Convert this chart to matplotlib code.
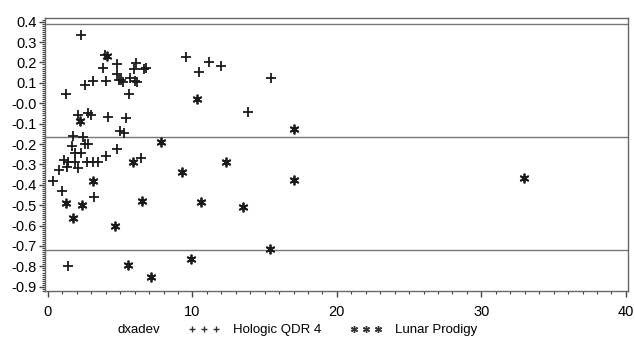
import numpy as np
import matplotlib
matplotlib.use("Agg")
import matplotlib.pyplot as plt
from matplotlib.lines import Line2D
from matplotlib.ticker import MultipleLocator

plt.rcParams['font.family'] = ['Liberation Sans', 'DejaVu Sans']

# Hologic QDR 4 (+)
hol_x = [2.26, 1.22, 3.95, 3.83, 4.80, 6.09, 5.98, 6.66, 6.76, 2.56, 3.13, 4.03,
         4.81, 4.89, 5.07, 5.21, 5.67, 6.00, 6.14, 5.63, 2.08, 2.79, 2.98, 4.15,
         5.41, 4.98, 5.28, 1.71, 2.42, 1.64, 2.59, 2.80, 1.87, 2.28, 4.01, 4.81,
         1.13, 1.40, 1.87, 2.10, 1.29, 2.72, 3.14, 3.48, 6.42, 0.37, 0.78, 0.97,
         3.18, 1.38, 9.53, 11.16, 10.47, 11.99, 15.45, 13.82]
hol_y = [0.334, 0.043, 0.236, 0.171, 0.192, 0.198, 0.166, 0.166, 0.172, 0.089, 0.111, 0.111,
         0.144, 0.116, 0.114, 0.103, 0.124, 0.111, 0.105, 0.047, -0.059, -0.047, -0.058, -0.069,
         -0.070, -0.136, -0.148, -0.161, -0.164, -0.210, -0.198, -0.201, -0.243, -0.244, -0.259, -0.224,
         -0.278, -0.286, -0.287, -0.319, -0.311, -0.288, -0.288, -0.288, -0.270, -0.381, -0.327, -0.428,
         -0.461, -0.800, 0.228, 0.200, 0.153, 0.184, 0.122, -0.042]

# Lunar Prodigy (*)
lun_x = [4.08, 2.22, 3.09, 1.22, 1.75, 2.37, 4.64, 6.51, 5.90, 5.51, 7.15, 7.82,
         9.25, 12.30, 17.05, 10.61, 13.49, 15.34, 9.87, 32.96, 10.33, 17.02]
lun_y = [0.232, -0.088, -0.381, -0.490, -0.561, -0.500, -0.601, -0.481, -0.287, -0.792, -0.851, -0.192,
         -0.337, -0.287, -0.375, -0.484, -0.510, -0.713, -0.765, -0.368, 0.020, -0.128]

# mean difference and limits of agreement
ref_lines = [0.387, -0.165, -0.718]

fig = plt.figure(figsize=(6.35, 3.43), dpi=100)
ax = fig.add_axes([0.071, 0.152, 0.918, 0.795])

for y in ref_lines:
    ax.axhline(y, color="#777777", lw=1.0, zorder=1)

ax.plot(hol_x, hol_y, ls="none", marker="+", ms=7, mew=1.3, color="#1a1a1a", zorder=3)
ax.plot(lun_x, lun_y, ls="none", marker=(6, 2, 0), ms=7, mew=1.3, color="#1a1a1a", zorder=3)

ax.set_xlim(-0.2, 40.15)
ax.set_ylim(-0.92, 0.417)
ax.set_xticks([0, 10, 20, 30, 40])
ax.set_yticks(np.round(np.arange(-0.9, 0.41, 0.1), 1))
ax.set_yticklabels([f"{v:.1f}" for v in np.arange(-0.9, 0.41, 0.1)])
ax.xaxis.set_minor_locator(MultipleLocator(1))
ax.yaxis.set_minor_locator(MultipleLocator(0.01))
ax.tick_params(which="major", length=4, width=1, color="#444444", labelsize=10.5, pad=2)
ax.tick_params(axis="x", which="major", pad=6)
ax.tick_params(which="minor", length=2, width=0.8, color="#444444")
for s in ax.spines.values():
    s.set_color("#666666")
    s.set_linewidth(1.0)

fig.text(117 / 635, 1 - 330 / 343, "dxadev", fontsize=9.5, va="center", ha="left")
handles = [Line2D([], [], ls="none", marker="+", ms=5, mew=1.0, color="#333333"),
           Line2D([], [], ls="none", marker=(6, 2, 0), ms=5, mew=1.0, color="#333333")]
fig.legend(handles, ["Hologic QDR 4", "Lunar Prodigy"], loc="center left",
           bbox_to_anchor=(188 / 635, 1 - 330 / 343), ncol=2, numpoints=3, frameon=False,
           fontsize=9.5, handlelength=2.4, handletextpad=1.0, columnspacing=2.2,
           borderpad=0, borderaxespad=0)

fig.savefig("out.png", dpi=100)
